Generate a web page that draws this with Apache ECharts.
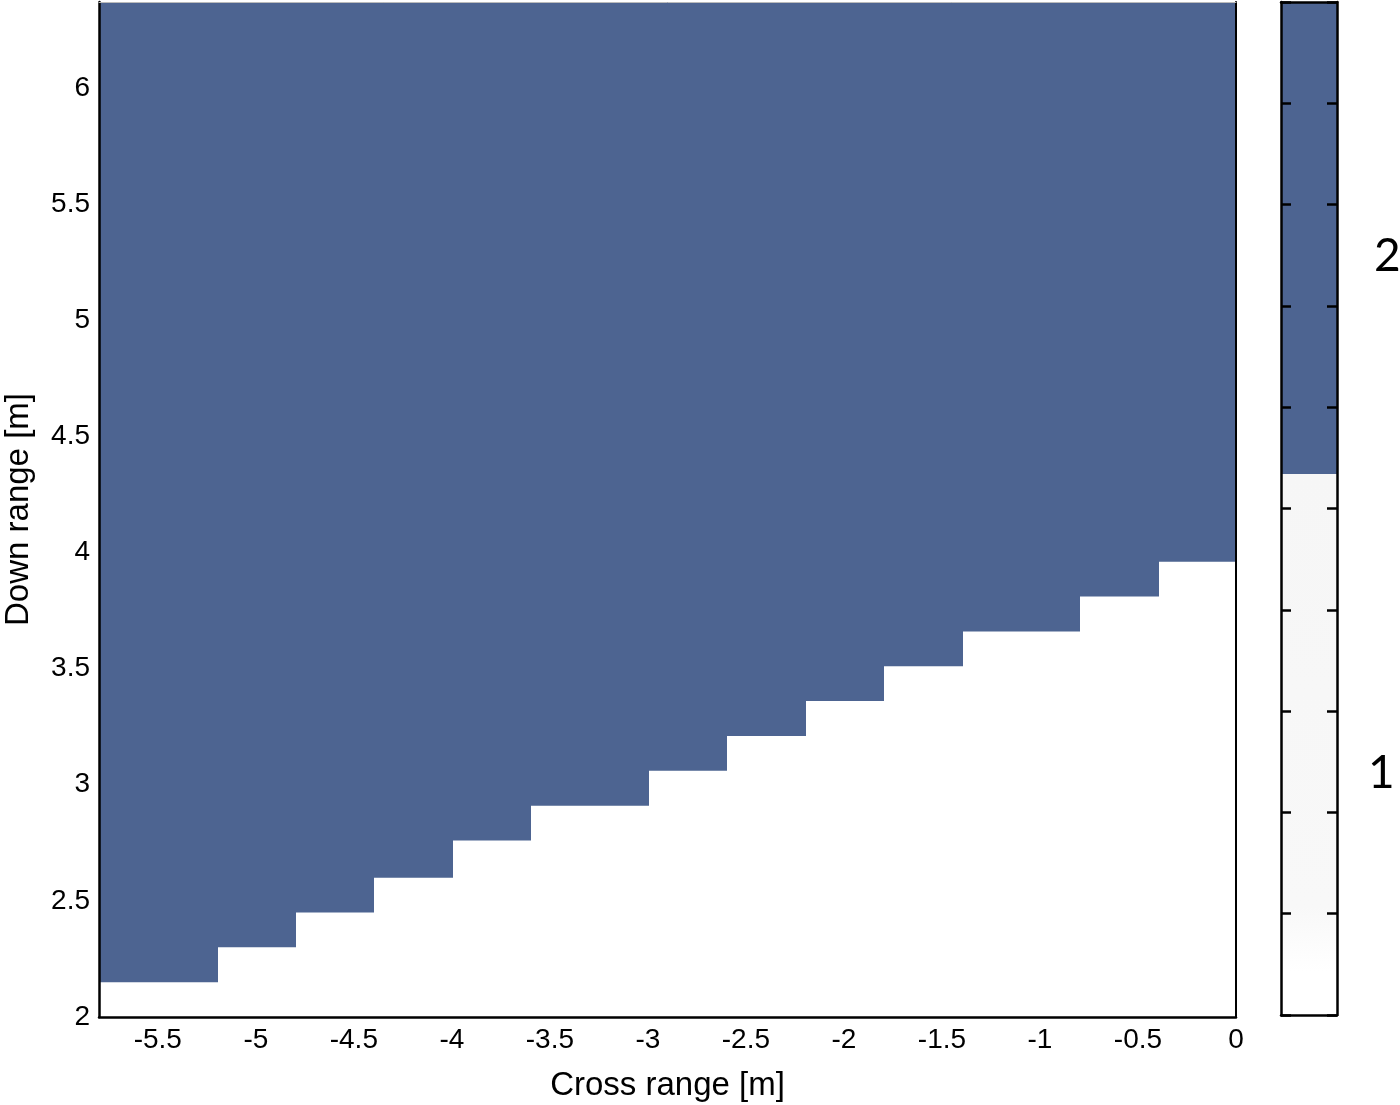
<!DOCTYPE html>
<html>
<head>
<meta charset="utf-8">
<script src="https://cdn.jsdelivr.net/npm/echarts@6/dist/echarts.min.js"></script>
<style>
  html, body { margin: 0; padding: 0; background: #fff; }
  #main { width: 1400px; height: 1105px; }
</style>
</head>
<body>
<div id="main"></div>
<script>
// column edges along cross range, and the down range where class 2 starts in each column
var xEdges = [-5.8, -5.2, -4.8, -4.4, -4.0, -3.6, -3.0, -2.6, -2.2, -1.8, -1.4, -0.8, -0.4, 0];
var lowerBound = [2.15, 2.30, 2.45, 2.60, 2.76, 2.91, 3.06, 3.21, 3.36, 3.51, 3.66, 3.81, 3.96];
var xTicks = [-5.5, -5, -4.5, -4, -3.5, -3, -2.5, -2, -1.5, -1, -0.5, 0];
var yTicks = [2, 2.5, 3, 3.5, 4, 4.5, 5, 5.5, 6];
var xMin = -5.8, xMax = 0, yMin = 2, yMax = 6.37;

// colour bar: class names and share of the bar
var classNames = ['1', '2'];
var classSpan = [5.34, 4.66];

var blue = '#4d6491';

var regionData = [];
for (var i = 0; i < lowerBound.length; i++) {
    regionData.push([xEdges[i], xEdges[i + 1], lowerBound[i]]);
}

var lineStyle = { color: '#000', width: 2.5 };
var tickFont = { fontFamily: 'Liberation Sans', fontSize: 28, color: '#000' };

var option = {
    backgroundColor: '#fff',
    animation: false,
    grid: [
        { left: 99, top: 2, width: 1137, height: 1015, outerBoundsMode: 'none', containLabel: false },
        { left: 1281, top: 2, width: 56, height: 1013, outerBoundsMode: 'none', containLabel: false }
    ],
    xAxis: [
        {
            gridIndex: 0, type: 'value', min: xMin, max: xMax, z: 10,
            name: 'Cross range [m]', nameLocation: 'middle', nameGap: 52,
            nameTextStyle: { fontFamily: 'Liberation Sans', fontSize: 33, color: '#000' },
            axisLine: { onZero: false, lineStyle: lineStyle },
            axisTick: { show: false },
            splitLine: { show: false },
            axisLabel: Object.assign({ customValues: xTicks, margin: 9 }, tickFont)
        },
        {
            gridIndex: 0, type: 'value', min: xMin, max: xMax, position: 'top', z: 10,
            axisLine: { onZero: false, lineStyle: { color: '#bbb', width: 1 } },
            axisTick: { show: false }, axisLabel: { show: false }, splitLine: { show: false }
        },
        {
            gridIndex: 1, type: 'category', data: ['c'], z: 10,
            axisLine: { onZero: false, lineStyle: lineStyle },
            axisTick: { show: false }, axisLabel: { show: false }
        },
        {
            gridIndex: 1, type: 'category', data: ['c'], position: 'top', z: 10,
            axisLine: { onZero: false, lineStyle: lineStyle },
            axisTick: { show: false }, axisLabel: { show: false }
        }
    ],
    yAxis: [
        {
            gridIndex: 0, type: 'value', min: yMin, max: yMax, z: 10,
            name: 'Down range [m]', nameLocation: 'middle', nameGap: 64, nameRotate: 90,
            nameTextStyle: { fontFamily: 'Liberation Sans', fontSize: 33, color: '#000' },
            axisLine: { show: true, onZero: false, lineStyle: lineStyle },
            axisTick: { show: false },
            splitLine: { show: false },
            axisLabel: Object.assign({ customValues: yTicks, margin: 9 }, tickFont)
        },
        {
            gridIndex: 0, type: 'value', min: yMin, max: yMax, position: 'right', z: 10,
            axisLine: { show: true, onZero: false, lineStyle: { color: '#000', width: 2 } },
            axisTick: { show: false }, axisLabel: { show: false }, splitLine: { show: false }
        },
        {
            gridIndex: 1, type: 'value', min: 0, max: 10, interval: 1, z: 10,
            axisLine: { show: true, onZero: false, lineStyle: lineStyle },
            axisTick: { show: true, inside: true, length: 10, lineStyle: { color: '#000', width: 2.5 } },
            axisLabel: { show: false }, splitLine: { show: false }
        },
        {
            gridIndex: 1, type: 'value', min: 0, max: 10, interval: 1, position: 'right', z: 10,
            axisLine: { show: true, onZero: false, lineStyle: lineStyle },
            axisTick: { show: true, inside: true, length: 10, lineStyle: { color: '#000', width: 2.5 } },
            axisLabel: { show: false }, splitLine: { show: false }
        }
    ],
    series: [
        {
            type: 'custom',
            xAxisIndex: 0, yAxisIndex: 0,
            clip: true,
            data: regionData,
            renderItem: function (params, api) {
                var p0 = api.coord([api.value(0), yMax]);
                var p1 = api.coord([api.value(1), api.value(2)]);
                var x0 = Math.round(p0[0]);
                var x1 = Math.round(p1[0]) + 1;
                return {
                    type: 'rect',
                    shape: { x: x0, y: p0[1], width: x1 - x0, height: p1[1] - p0[1] },
                    style: { fill: blue }
                };
            }
        },
        {
            name: classNames[0], type: 'bar', stack: 'cb',
            xAxisIndex: 2, yAxisIndex: 2, barWidth: '100%',
            data: [classSpan[0]],
            itemStyle: {
                color: new echarts.graphic.LinearGradient(0, 0, 0, 1, [
                    { offset: 0, color: '#f6f6f6' },
                    { offset: 0.8, color: '#f8f8f8' },
                    { offset: 0.92, color: '#ffffff' },
                    { offset: 1, color: '#ffffff' }
                ])
            },
            label: {
                show: true, position: 'right', distance: 31, offset: [0, 29],
                formatter: classNames[0],
                fontFamily: 'Lato', fontSize: 46, color: '#000'
            }
        },
        {
            name: classNames[1], type: 'bar', stack: 'cb',
            xAxisIndex: 2, yAxisIndex: 2, barWidth: '100%',
            data: [classSpan[1]],
            itemStyle: { color: blue },
            label: {
                show: true, position: 'right', distance: 37, offset: [0, 18],
                formatter: classNames[1],
                fontFamily: 'Lato', fontSize: 46, color: '#000'
            }
        }
    ]
};

var chart = echarts.init(document.getElementById('main'));
chart.setOption(option);
</script>
</body>
</html>
